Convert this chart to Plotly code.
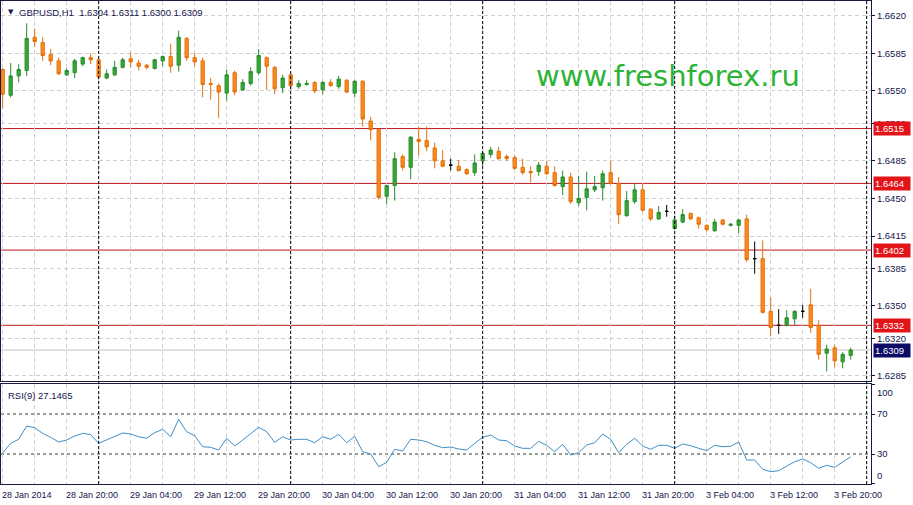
import numpy as np
import plotly.graph_objects as go

# ---------------- data (GBPUSD H1) ----------------
open_ = [1.6570,1.6546,1.6564,1.6569,1.6600,1.6595,1.6584,1.6578,1.6565,1.6567,
         1.6575,1.6581,1.6579,1.6562,1.6565,1.6572,1.6580,1.6576,1.6574,1.6571,
         1.6578,1.6582,1.6574,1.6599,1.6581,1.6578,1.6557,1.6555,1.6548,1.6567,
         1.6551,1.6557,1.6567,1.6581,1.6572,1.6553,1.6565,1.6554,1.6556,1.6558,
         1.6551,1.6558,1.6554,1.6560,1.6548,1.6559,1.6522,1.6514,1.6452,1.6462,
         1.6489,1.6479,1.6505,1.6504,1.6497,1.6485,1.6481,1.6480,1.6477,1.6474,
         1.6485,1.6491,1.6494,1.6489,1.6488,1.6479,1.6475,1.6475,1.6480,1.6474,
         1.6461,1.6470,1.6446,1.6451,1.6458,1.6460,1.6474,1.6464,1.6434,1.6447,
         1.6458,1.6440,1.6431,1.6438,1.6422,1.6428,1.6436,1.6432,1.6425,1.6420,
         1.6430,1.6425,1.6425,1.6431,1.6394,1.6394,1.6345,1.6332,1.6332,1.6338,
         1.6345,1.6351,1.6332,1.6306,1.6311,1.6298,1.6304]
high = [1.6571,1.6576,1.6575,1.6613,1.6608,1.6600,1.6589,1.6581,1.6571,1.6580,
        1.6582,1.6585,1.6580,1.6570,1.6578,1.6581,1.6586,1.6579,1.6575,1.6580,
        1.6583,1.6594,1.6606,1.6600,1.6585,1.6581,1.6562,1.6557,1.6570,1.6569,
        1.6561,1.6572,1.6589,1.6582,1.6573,1.6565,1.6566,1.6560,1.6560,1.6559,
        1.6559,1.6561,1.6564,1.6561,1.6560,1.6560,1.6526,1.6515,1.6462,1.6493,
        1.6491,1.6508,1.6517,1.6517,1.6502,1.6495,1.6487,1.6486,1.6478,1.6491,
        1.6493,1.6498,1.6498,1.6491,1.6490,1.6487,1.6480,1.6484,1.6485,1.6480,
        1.6476,1.6474,1.6471,1.6475,1.6471,1.6476,1.6485,1.6470,1.6457,1.6464,
        1.6464,1.6441,1.6443,1.6444,1.6434,1.6440,1.6437,1.6433,1.6426,1.6431,
        1.6431,1.6427,1.6431,1.6435,1.6410,1.6411,1.6358,1.6347,1.6346,1.6346,
        1.6351,1.6366,1.6337,1.6314,1.6314,1.6307,1.6311]
low = [1.6534,1.6544,1.6558,1.6564,1.6591,1.6578,1.6574,1.6565,1.6564,1.6562,
       1.6573,1.6575,1.6561,1.6561,1.6564,1.6571,1.6572,1.6569,1.6570,1.6570,
       1.6573,1.6567,1.6568,1.6578,1.6573,1.6544,1.6542,1.6525,1.6541,1.6546,
       1.6550,1.6555,1.6565,1.6551,1.6547,1.6548,1.6551,1.6552,1.6555,1.6548,
       1.6547,1.6554,1.6552,1.6548,1.6544,1.6517,1.6504,1.6449,1.6445,1.6448,
       1.6476,1.6468,1.6490,1.6494,1.6478,1.6479,1.6476,1.6475,1.6472,1.6471,
       1.6480,1.6488,1.6486,1.6485,1.6477,1.6472,1.6465,1.6471,1.6472,1.6461,
       1.6453,1.6445,1.6443,1.6439,1.6456,1.6448,1.6463,1.6426,1.6433,1.6445,
       1.6438,1.6429,1.6430,1.6433,1.6421,1.6427,1.6430,1.6422,1.6419,1.6419,
       1.6425,1.6424,1.6418,1.6391,1.6380,1.6343,1.6322,1.6324,1.6331,1.6332,
       1.6339,1.6325,1.6300,1.6289,1.6293,1.6292,1.6300]
close = [1.6547,1.6564,1.6570,1.6599,1.6596,1.6583,1.6578,1.6566,1.6569,1.6578,
         1.6581,1.6579,1.6563,1.6566,1.6572,1.6579,1.6577,1.6573,1.6572,1.6579,
         1.6582,1.6573,1.6600,1.6581,1.6577,1.6556,1.6556,1.6549,1.6565,1.6549,
         1.6558,1.6568,1.6583,1.6573,1.6552,1.6562,1.6555,1.6557,1.6557,1.6550,
         1.6558,1.6555,1.6561,1.6549,1.6559,1.6524,1.6514,1.6451,1.6462,1.6487,
         1.6479,1.6507,1.6503,1.6498,1.6485,1.6480,1.6481,1.6476,1.6473,1.6483,
         1.6492,1.6495,1.6487,1.6487,1.6478,1.6474,1.6474,1.6481,1.6473,1.6462,
         1.6470,1.6447,1.6450,1.6459,1.6461,1.6473,1.6464,1.6435,1.6448,1.6458,
         1.6439,1.6431,1.6437,1.6438,1.6430,1.6435,1.6431,1.6426,1.6421,1.6428,
         1.6426,1.6426,1.6430,1.6393,1.6394,1.6344,1.6330,1.6332,1.6339,1.6345,
         1.6345,1.6330,1.6305,1.6310,1.6299,1.6305,1.6309]
rsi = [31.0,40.7,44.7,58.0,56.3,50.7,46.7,42.0,44.0,48.0,
       50.7,49.3,40.7,44.0,47.3,51.0,50.0,47.3,45.7,51.3,
       54.7,47.3,64.7,52.3,48.3,37.3,36.7,34.0,45.7,38.0,
       44.0,50.0,56.7,52.3,41.7,47.3,44.0,44.7,44.7,41.3,
       47.3,44.7,49.7,41.3,47.7,32.3,30.0,17.3,21.7,34.7,
       33.0,44.7,44.0,42.3,38.7,36.3,37.0,35.0,34.0,40.7,
       46.7,49.0,44.0,43.3,38.0,35.7,35.7,42.7,38.7,32.3,
       39.7,29.0,31.3,39.0,41.3,50.0,44.7,31.3,39.7,45.7,
       38.0,34.7,38.7,38.7,35.7,40.0,38.3,35.7,33.3,38.7,
       37.3,37.7,42.0,24.0,24.0,14.7,12.3,13.3,18.0,22.3,
       25.0,21.3,15.7,18.7,16.7,22.3,27.1465]

time_labels = ["28 Jan 2014", "28 Jan 20:00", "29 Jan 04:00", "29 Jan 12:00",
               "29 Jan 20:00", "30 Jan 04:00", "30 Jan 12:00", "30 Jan 20:00",
               "31 Jan 04:00", "31 Jan 12:00", "31 Jan 20:00", "3 Feb 04:00",
               "3 Feb 12:00", "3 Feb 20:00"]
label_bars = [0, 8, 16, 24, 32, 40, 48, 56, 64, 72, 80, 88, 96, 104]
day_start_bars = [12, 36, 60, 84, 108]
levels = [1.6515, 1.6464, 1.6402, 1.6332]
price_ticks = [1.6620, 1.6585, 1.6550, 1.6520, 1.6485, 1.6450, 1.6415,
               1.6385, 1.6350, 1.6320, 1.6285]
rsi_levels = [30, 70]
rsi_ticks = [0, 30, 70, 100]
symbol = "GBPUSD,H1"
rsi_period = 9

# ---------------- figure ----------------
o = np.array(open_); h = np.array(high); l = np.array(low); c = np.array(close)
idx = np.arange(len(o))
NAVY = "#14144e"
FONT = "Liberation Sans, Arial, sans-serif"
GREEN_F, GREEN_L = "#35a938", "#2a8c2c"
ORANGE_F, ORANGE_L = "#ff8a1c", "#e0700c"

fig = go.Figure()
groups = [(c > o, GREEN_F, GREEN_L), (c < o, ORANGE_F, ORANGE_L), (c == o, "#000000", "#000000")]
for mask, fill, line in groups:
    fig.add_trace(go.Candlestick(
        x=idx[mask], open=o[mask], high=h[mask], low=l[mask], close=c[mask],
        increasing=dict(fillcolor=fill, line=dict(color=line, width=1)),
        decreasing=dict(fillcolor=fill, line=dict(color=line, width=1)),
        whiskerwidth=0, showlegend=False, hoverinfo="skip",
        xaxis="x", yaxis="y"))

fig.add_trace(go.Scatter(x=idx, y=rsi, mode="lines",
                         line=dict(color="#3f8fc6", width=1),
                         xaxis="x2", yaxis="y2", showlegend=False, hoverinfo="skip"))

GRID = "#cfcfcf"
xcommon = dict(range=[-0.21, 108.54], showticklabels=False,
               tickvals=label_bars, showgrid=True, gridcolor=GRID, griddash="4px,3px",
               gridwidth=1, ticks="", zeroline=False,
               minor=dict(dtick=4, tick0=0, showgrid=True, gridcolor=GRID,
                          griddash="4px,3px", gridwidth=1),
               showline=True, linecolor="#1a1a40", linewidth=1, mirror=True)

rsi_ticktext = ["" if v in (0, 100) else str(v) for v in rsi_ticks]

fig.update_layout(
    width=913, height=505,
    margin=dict(l=1, r=42, t=1, b=21),
    paper_bgcolor="#ffffff", plot_bgcolor="#ffffff",
    boxgap=0.42,
    xaxis=dict(anchor="y", domain=[0, 1], rangeslider=dict(visible=False), **xcommon),
    xaxis2=dict(anchor="y2", domain=[0, 1], matches="x", **xcommon),
    yaxis=dict(domain=[0.2133, 1], range=[1.62802, 1.66337], side="right",
               tickvals=price_ticks, tickformat=".4f", showgrid=True,
               gridcolor=GRID, griddash="4px,3px", ticks="outside", ticklen=3,
               tickcolor=NAVY, tickfont=dict(family=FONT, size=9.5, color=NAVY),
               zeroline=False, showline=True, linecolor="#1a1a40", mirror=True),
    yaxis2=dict(domain=[0, 0.207], range=[0, 100], side="right",
                tickvals=rsi_ticks, ticktext=rsi_ticktext, showgrid=False,
                ticks="outside", ticklen=3,
                tickcolor=NAVY, tickfont=dict(family=FONT, size=9.5, color=NAVY),
                zeroline=False, showline=True, linecolor="#1a1a40", mirror=True),
    font=dict(family=FONT, size=9.5, color=NAVY),
)

shapes = []
for b in day_start_bars:
    shapes.append(dict(type="line", xref="x", yref="paper", x0=b, x1=b, y0=0, y1=1,
                       line=dict(color="#000000", width=1, dash="3px,2px"), layer="above"))
for lv in levels:
    shapes.append(dict(type="line", xref="paper", yref="y", x0=0, x1=1, y0=lv, y1=lv,
                       line=dict(color="#c0141c", width=1), layer="below"))
shapes.append(dict(type="line", xref="paper", yref="y", x0=0, x1=1, y0=close[-1], y1=close[-1],
                   line=dict(color="#c4c4c4", width=1), layer="below"))
for rl in rsi_levels:
    shapes.append(dict(type="line", xref="paper", yref="y2", x0=0, x1=1, y0=rl, y1=rl,
                       line=dict(color="#2a3a2a", width=1, dash="3px,3px"), layer="below"))
fig.update_layout(shapes=shapes)

ann = []
# top-left symbol info
ann.append(dict(xref="paper", yref="paper", x=0, y=1, xanchor="left", yanchor="middle",
                xshift=5, yshift=-11, showarrow=False, text="▼",
                font=dict(family="DejaVu Sans", size=7, color=NAVY)))
ann.append(dict(xref="paper", yref="paper", x=0, y=1, xanchor="left", yanchor="middle",
                xshift=16, yshift=-11, showarrow=False,
                text=f"{symbol}  {open_[-1]:.4f} {high[-1]:.4f} {low[-1]:.4f} {close[-1]:.4f}",
                font=dict(family=FONT, size=9.5, color=NAVY)))
ann.append(dict(xref="paper", yref="paper", x=0, y=1, xanchor="left", yanchor="middle",
                xshift=533, yshift=-75, showarrow=False, text="www.freshforex.ru",
                font=dict(family="DejaVu Sans", size=29, color="#2db336")))
ann.append(dict(xref="paper", yref="paper", x=0, y=1, xanchor="left", yanchor="middle",
                xshift=5, yshift=-394, showarrow=False, text=f"RSI({rsi_period}) {rsi[-1]:.4f}",
                font=dict(family=FONT, size=9.5, color=NAVY)))
# outer RSI scale labels, placed inside the panel edges as the terminal does
ann.append(dict(xref="paper", yref="y2", x=1, y=100, xanchor="left", yanchor="top",
                xshift=4, yshift=-1, showarrow=False, text="100",
                font=dict(family=FONT, size=9.5, color=NAVY)))
ann.append(dict(xref="paper", yref="y2", x=1, y=0, xanchor="left", yanchor="bottom",
                xshift=4, yshift=1, showarrow=False, text="0",
                font=dict(family=FONT, size=9.5, color=NAVY)))
for b, t in zip(label_bars, time_labels):
    ann.append(dict(xref="x2", yref="paper", x=b, y=0, xanchor="left", yanchor="top",
                    yshift=-4, xshift=-3, showarrow=False, text=t,
                    font=dict(family=FONT, size=9, color=NAVY)))
for lv in levels:
    ann.append(dict(xref="paper", yref="y", x=1, y=lv, xanchor="left", yanchor="middle",
                    xshift=2, showarrow=False, text=f"{lv:.4f}", bgcolor="#e2141a",
                    width=34, height=11, align="left", borderpad=1,
                    font=dict(family=FONT, size=9.5, color="#ffffff")))
ann.append(dict(xref="paper", yref="y", x=1, y=close[-1], xanchor="left", yanchor="middle",
                xshift=2, showarrow=False, text=f"{close[-1]:.4f}", bgcolor="#0c0c66",
                width=34, height=11, align="left", borderpad=1,
                font=dict(family=FONT, size=9.5, color="#ffffff")))
fig.update_layout(annotations=ann)

fig.write_html("out.html", config={"displayModeBar": False},
               post_script="document.body.style.margin='0px';document.body.style.overflow='hidden';")
